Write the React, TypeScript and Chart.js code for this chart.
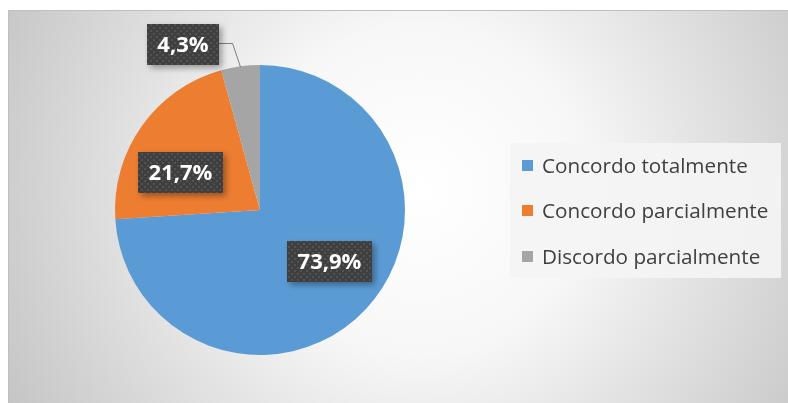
import React, { useEffect, useRef } from "react";
import { Chart, registerables } from "chart.js";

Chart.register(...registerables);

const categories = ["Concordo totalmente", "Concordo parcialmente", "Discordo parcialmente"];
const values = [73.9, 21.7, 4.3];
const colors = ["#5b9bd5", "#ed7d31", "#a5a5a5"];

// label placement: radius factor and pixel nudge per slice
const labelRadius = [0.6, 0.6, 1.25];
const labelNudge = [[6, -8], [-9, 13], [-53, 14]];
const leaderLine = [false, false, true];

const W = 788;
const H = 403;

function makePattern(ctx: CanvasRenderingContext2D) {
  const c = document.createElement("canvas");
  c.width = 6;
  c.height = 6;
  const p = c.getContext("2d")!;
  p.fillStyle = "#3f3f3f";
  p.fillRect(0, 0, 6, 6);
  p.fillStyle = "#525252";
  p.fillRect(0, 0, 2, 2);
  p.fillRect(3, 3, 2, 2);
  return ctx.createPattern(c, "repeat")!;
}

const bgPlugin = {
  id: "bgFrame",
  beforeDraw(chart: any) {
    const ctx = chart.ctx as CanvasRenderingContext2D;
    ctx.save();
    ctx.fillStyle = "#ffffff";
    ctx.fillRect(0, 0, W, H);
    const g = ctx.createRadialGradient(420, 190, 0, 420, 190, 470);
    g.addColorStop(0, "#ffffff");
    g.addColorStop(0.35, "#f7f7f7");
    g.addColorStop(1, "#c4c4c4");
    ctx.fillStyle = g;
    ctx.fillRect(8.5, 10.5, W, H);
    ctx.strokeStyle = "#bfbfbf";
    ctx.lineWidth = 1;
    ctx.strokeRect(8.5, 10.5, W, H);
    ctx.restore();
  },
};

const labelPlugin = {
  id: "pctLabels",
  afterDatasetsDraw(chart: any) {
    const ctx = chart.ctx as CanvasRenderingContext2D;
    const meta = chart.getDatasetMeta(0);
    const data = chart.data.datasets[0].data as number[];
    const pattern = makePattern(ctx);
    ctx.save();
    ctx.font = "bold 22px 'Open Sans'";
    meta.data.forEach((arc: any, i: number) => {
      const { x, y, startAngle, endAngle, outerRadius } = arc.getProps(
        ["x", "y", "startAngle", "endAngle", "outerRadius"],
        true
      );
      const mid = (startAngle + endAngle) / 2;
      const cx = x + Math.cos(mid) * outerRadius * labelRadius[i] + labelNudge[i][0];
      const cy = y + Math.sin(mid) * outerRadius * labelRadius[i] + labelNudge[i][1];
      const txt = data[i].toFixed(1).replace(".", ",") + "%";
      const tw = ctx.measureText(txt).width;
      const bw = Math.round(tw + 21);
      const bh = 41;
      const bx = Math.round(cx - bw / 2);
      const by = Math.round(cy - bh / 2);
      if (leaderLine[i]) {
        const ex = x + Math.cos(mid) * (outerRadius - 1);
        const ey = y + Math.sin(mid) * (outerRadius - 1);
        ctx.strokeStyle = "#7f7f7f";
        ctx.lineWidth = 1;
        ctx.beginPath();
        ctx.moveTo(bx + bw, Math.round(cy) - 0.5);
        ctx.lineTo(ex - 8, Math.round(cy) - 0.5);
        ctx.lineTo(ex, ey);
        ctx.stroke();
      }
      ctx.save();
      ctx.shadowColor = "rgba(0,0,0,0.35)";
      ctx.shadowBlur = 6;
      ctx.shadowOffsetX = 3;
      ctx.shadowOffsetY = 3;
      ctx.fillStyle = pattern;
      ctx.fillRect(bx, by, bw, bh);
      ctx.restore();
      ctx.fillStyle = "#ffffff";
      ctx.textAlign = "center";
      ctx.textBaseline = "middle";
      ctx.fillText(txt, bx + bw / 2, by + bh / 2 + 1);
    });
    ctx.restore();
  },
};

const legendPlugin = {
  id: "customLegend",
  afterDraw(chart: any) {
    const ctx = chart.ctx as CanvasRenderingContext2D;
    const labels = chart.data.labels as string[];
    const bg = chart.data.datasets[0].backgroundColor as string[];
    ctx.save();
    ctx.fillStyle = "rgba(244,244,244,0.92)";
    ctx.fillRect(510, 143, 271, 135);
    ctx.font = "20.7px 'Open Sans'";
    ctx.textBaseline = "alphabetic";
    ctx.textAlign = "left";
    labels.forEach((lab, i) => {
      const base = 173 + i * 45.3;
      ctx.fillStyle = bg[i];
      ctx.fillRect(522, Math.round(base - 13), 11, 11);
      ctx.fillStyle = "#404040";
      ctx.fillText(lab, 542, base);
    });
    ctx.restore();
  },
};

export default function App() {
  const ref = useRef<HTMLCanvasElement | null>(null);
  useEffect(() => {
    document.body.style.margin = "0";
    const chart = new Chart(ref.current!, {
      type: "pie",
      data: {
        labels: categories,
        datasets: [
          {
            data: values,
            backgroundColor: colors,
            borderWidth: 0,
          },
        ],
      },
      options: {
        responsive: false,
        animation: false,
        layout: { padding: { left: 115, right: 383, top: 65, bottom: 48 } },
        plugins: {
          legend: { display: false },
          tooltip: { enabled: false },
        },
      },
      plugins: [bgPlugin, labelPlugin, legendPlugin],
    });
    return () => chart.destroy();
  }, []);
  return (
    <div style={{ position: "fixed", left: 0, top: 0, width: W, height: H }}>
      <canvas ref={ref} width={W} height={H} />
    </div>
  );
}
